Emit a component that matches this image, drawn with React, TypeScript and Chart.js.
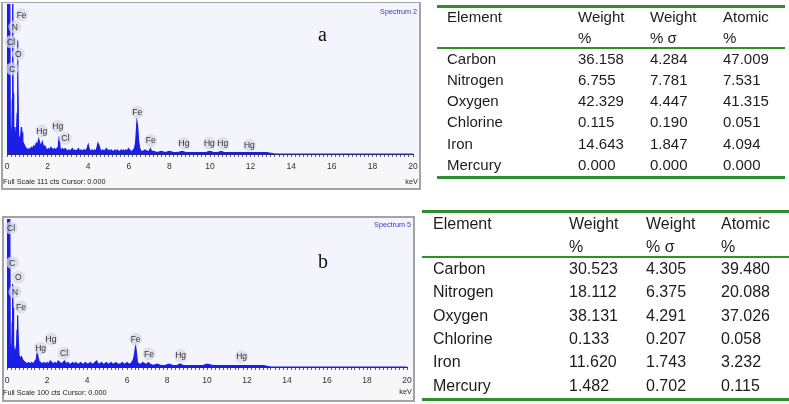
import React, { useEffect, useRef } from "react";
import { Chart, registerables } from "chart.js";

Chart.register(...registerables);

// ---------------- data ----------------
const energyA = [
  0.0, 0.02, 0.13, 0.16, 0.2, 0.24, 0.26, 0.28, 0.3, 0.33, 0.36, 0.39, 0.42, 0.46, 0.5, 0.52, 0.54, 0.57, 0.62, 0.67,
  0.71, 0.74, 0.78, 0.84, 0.9, 0.96, 1.02, 1.08, 1.14, 1.2, 1.26, 1.32, 1.38, 1.44, 1.5, 1.56, 1.62, 1.68, 1.74, 1.8,
  1.86, 1.92, 1.98, 2.04, 2.1, 2.16, 2.22, 2.28, 2.34, 2.4, 2.46, 2.52, 2.57, 2.62, 2.68, 2.74, 2.8, 2.86, 2.92, 2.98,
  3.04, 3.1, 3.16, 3.22, 3.28, 3.34, 3.4, 3.46, 3.52, 3.58, 3.64, 3.7, 3.76, 3.82, 3.88, 3.94, 4.0, 4.06, 4.12, 4.18,
  4.24, 4.3, 4.36, 4.42, 4.48, 4.54, 4.6, 4.66, 4.72, 4.78, 4.84, 4.9, 4.96, 5.02, 5.08, 5.14, 5.2, 5.26, 5.32, 5.38,
  5.44, 5.5, 5.56, 5.62, 5.68, 5.74, 5.8, 5.86, 5.92, 5.98, 6.04, 6.1, 6.16, 6.22, 6.28, 6.34, 6.4, 6.44, 6.48, 6.54,
  6.6, 6.7, 6.8, 6.9, 7.0, 7.06, 7.12, 7.2, 7.4, 7.6, 7.8, 8.0, 8.2, 8.4, 8.64, 8.8, 9.0, 9.2, 9.4, 9.6,
  9.8, 9.98, 10.2, 10.4, 10.54, 10.7, 11.0, 11.4, 11.8, 12.0, 12.4, 12.8, 13.2, 20.0,
];
const countsA = [
  0, 160, 160, 22, 14, 16, 40, 160, 45, 14, 13, 20, 13, 13, 30, 84, 60, 14, 11, 13,
  20, 16, 9, 7, 5, 4, 3, 4, 3, 5, 4, 6, 5, 8, 7, 11, 8, 6, 9, 5,
  6, 4, 3, 4, 3, 5, 4, 3, 4, 3, 4, 5, 13, 4, 3, 4, 3, 4, 3, 2,
  3, 2, 3, 4, 2, 3, 2, 3, 4, 2, 3, 2, 3, 3, 2, 4, 7, 3, 2, 3,
  2, 3, 2, 4, 8, 6, 3, 2, 3, 2, 3, 4, 2, 3, 2, 3, 2, 2, 3, 2,
  3, 2, 2, 3, 2, 3, 2, 3, 2, 4, 3, 2, 2, 3, 4, 9, 24, 20, 10, 4,
  2, 2, 3, 2, 2, 4, 2, 2, 1, 2, 1, 2, 1, 1, 2, 1, 1, 1, 1, 1,
  1, 2, 1, 1, 2, 1, 1, 1, 1, 1, 1, 1, 0, 0,
];
const fullScaleA = 111;
const peakNamesA = ["Fe", "N", "Cl", "O", "C", "Hg", "Hg", "Cl", "Fe", "Fe", "Hg", "Hg", "Hg", "Hg"];
const peakKeVA = [0.72, 0.39, 0.2, 0.56, 0.26, 1.71, 2.5, 2.87, 6.42, 7.08, 8.72, 9.97, 10.63, 11.94];
const peakCtsA = [103, 94, 83, 74, 63, 17, 20.5, 11.5, 31, 10, 8, 8, 8, 6.5];

const energyB = [
  0.0, 0.02, 0.13, 0.16, 0.2, 0.24, 0.26, 0.28, 0.3, 0.33, 0.37, 0.4, 0.43, 0.47, 0.5, 0.53, 0.56, 0.6, 0.66, 0.72,
  0.78, 0.84, 0.92, 1.0, 1.08, 1.16, 1.24, 1.32, 1.4, 1.46, 1.51, 1.55, 1.6, 1.68, 1.76, 1.84, 1.92, 2.0, 2.08, 2.16,
  2.24, 2.32, 2.4, 2.48, 2.56, 2.64, 2.72, 2.8, 2.88, 2.96, 3.04, 3.12, 3.2, 3.28, 3.36, 3.44, 3.52, 3.6, 3.68, 3.76,
  3.84, 3.92, 4.0, 4.08, 4.16, 4.24, 4.32, 4.4, 4.48, 4.56, 4.64, 4.72, 4.8, 4.88, 4.96, 5.04, 5.12, 5.2, 5.28, 5.36,
  5.44, 5.52, 5.6, 5.68, 5.76, 5.84, 5.92, 6.0, 6.08, 6.16, 6.24, 6.32, 6.38, 6.43, 6.47, 6.52, 6.6, 6.7, 6.8, 6.9,
  7.0, 7.06, 7.14, 7.3, 7.5, 7.7, 7.9, 8.1, 8.3, 8.5, 8.66, 8.8, 9.0, 9.2, 9.4, 9.6, 9.8, 10.0, 10.3, 10.6,
  11.0, 11.4, 11.72, 12.0, 12.4, 12.8, 13.2, 20.0,
];
const countsB = [
  0, 160, 160, 16, 10, 14, 30, 56, 40, 10, 9, 12, 9, 10, 25, 35, 20, 8, 6, 7,
  5, 4, 3, 2, 3, 2, 3, 2, 4, 5, 10, 7, 4, 3, 2, 3, 2, 3, 2, 4,
  3, 2, 3, 2, 4, 3, 2, 3, 4, 2, 3, 2, 2, 3, 2, 3, 2, 2, 3, 2,
  2, 3, 2, 2, 3, 2, 2, 3, 4, 2, 2, 3, 2, 2, 3, 2, 2, 3, 2, 2,
  3, 2, 2, 2, 3, 2, 2, 3, 2, 2, 3, 5, 9, 14, 10, 3, 2, 2, 3, 2,
  2, 3, 2, 1, 2, 1, 1, 2, 1, 1, 2, 1, 1, 1, 1, 1, 1, 2, 1, 1,
  1, 1, 1, 1, 1, 1, 0, 0,
];
const fullScaleB = 100;
const peakNamesB = ["Cl", "C", "O", "N", "Fe", "Hg", "Hg", "Cl", "Fe", "Fe", "Hg", "Hg"];
const peakKeVB = [0.2, 0.27, 0.57, 0.4, 0.7, 1.68, 2.2, 2.85, 6.43, 7.1, 8.68, 11.73];
const peakCtsB = [94, 70.5, 60.7, 50.8, 40.6, 12.7, 19, 9.3, 19, 9, 7.7, 7];

const keVMin = 0;
const keVMax = 20;
const keVLabelTicks = [0, 2, 4, 6, 8, 10, 12, 14, 16, 18, 20];
const keVMinorStep = 0.2;

const elements = ["Carbon", "Nitrogen", "Oxygen", "Chlorine", "Iron", "Mercury"];
const weightA = [36.158, 6.755, 42.329, 0.115, 14.643, 0.0];
const sigmaA = [4.284, 7.781, 4.447, 0.19, 1.847, 0.0];
const atomicA = [47.009, 7.531, 41.315, 0.051, 4.094, 0.0];
const weightB = [30.523, 18.112, 38.131, 0.133, 11.62, 1.482];
const sigmaB = [4.305, 6.375, 4.291, 0.207, 1.743, 0.702];
const atomicB = [39.48, 20.088, 37.026, 0.058, 3.232, 0.115];
const headerLine1 = ["Element", "Weight", "Weight", "Atomic"];
const headerLine2 = ["", "%", "% σ", "%"];

// ---------------- components ----------------
const SANS = '"Liberation Sans", Arial, sans-serif';
const BLUE = "#1a1ee6";
const GREEN = "#2f8f2f";

type SpecProps = {
  energy: number[];
  counts: number[];
  fullScale: number;
  names: string[];
  kev: number[];
  cts: number[];
  left: number;
  top: number;
  w: number;
  h: number;
  tickPad: number;
  pad: { left: number; right: number; top: number; bottom: number };
};

function Spectrum(p: SpecProps) {
  const ref = useRef<HTMLCanvasElement>(null);
  useEffect(() => {
    const bg = {
      id: "bgfill",
      beforeDraw(chart: any) {
        const { ctx, chartArea } = chart;
        ctx.save();
        ctx.fillStyle = "#f4f4fd";
        ctx.fillRect(0, 0, chart.width, chartArea.bottom);
        ctx.restore();
      },
    };
    const lbl = {
      id: "peaklabels",
      afterDatasetsDraw(chart: any) {
        const { ctx } = chart;
        const xs = chart.scales.x;
        const ys = chart.scales.y;
        ctx.save();
        ctx.font = `8.5px ${SANS}`;
        ctx.textAlign = "center";
        ctx.textBaseline = "middle";
        p.names.forEach((n, i) => {
          const px = xs.getPixelForValue(p.kev[i]);
          const py = ys.getPixelForValue(p.cts[i]);
          ctx.beginPath();
          ctx.arc(px, py, 6.5, 0, Math.PI * 2);
          ctx.fillStyle = "rgba(218,218,230,0.75)";
          ctx.fill();
          ctx.fillStyle = "#333";
          ctx.fillText(n, px, py + 0.5);
        });
        ctx.restore();
      },
    };
    const chart = new Chart(ref.current as HTMLCanvasElement, {
      type: "line",
      data: {
        datasets: [
          {
            data: p.energy.map((e, i) => ({ x: e, y: p.counts[i] })),
            borderColor: BLUE,
            backgroundColor: BLUE,
            borderWidth: 1.2,
            pointRadius: 0,
            fill: "origin",
            tension: 0,
          },
        ],
      },
      options: {
        animation: false,
        responsive: false,
        maintainAspectRatio: false,
        devicePixelRatio: 1,
        layout: { padding: p.pad },
        plugins: { legend: { display: false }, tooltip: { enabled: false } },
        scales: {
          x: {
            type: "linear",
            min: keVMin,
            max: keVMax,
            afterFit: (s: any) => {
              s.height = 20;
              s.paddingLeft = 0;
              s.paddingRight = 0;
            },
            ticks: {
              stepSize: keVMinorStep,
              autoSkip: false,
              maxRotation: 0,
              padding: p.tickPad,
              color: "#333",
              font: { size: 8.5, family: SANS },
              callback: (v: any) => {
                const n = Number(v);
                const hit = keVLabelTicks.find((t) => Math.abs(t - n) < 1e-6);
                return hit !== undefined ? String(hit) : "";
              },
            },
            grid: { drawOnChartArea: false, tickLength: 3, color: "#55558a", lineWidth: 1 },
            border: { color: "#2a2a7a", width: 1 },
          },
          y: { display: false, min: 0, max: p.fullScale },
        },
      },
      plugins: [bg, lbl],
    } as any);
    return () => chart.destroy();
  }, []);
  return (
    <canvas
      ref={ref}
      width={p.w}
      height={p.h}
      style={{ position: "absolute", left: p.left, top: p.top, width: p.w, height: p.h }}
    />
  );
}

type TableProps = {
  left: number;
  right: number;
  fs: number;
  cols: number[];
  topLine: number;
  h1: number;
  h2: number;
  thin: number;
  row0: number;
  step: number;
  bottomLine: number;
  weight: number[];
  sigma: number[];
  atomic: number[];
};

function Txt({ x, y, fs, children }: { x: number; y: number; fs: number; children: any }) {
  const lh = Math.round(fs * 1.3);
  return (
    <div
      style={{
        position: "absolute",
        left: x,
        top: y - lh / 2,
        height: lh,
        lineHeight: `${lh}px`,
        fontSize: fs,
        fontFamily: SANS,
        color: "#1c1c1c",
        whiteSpace: "nowrap",
      }}
    >
      {children}
    </div>
  );
}

function Table(t: TableProps) {
  const line = (y: number, th: number) => (
    <div style={{ position: "absolute", left: t.left, width: t.right - t.left, top: y, height: th, background: GREEN }} />
  );
  const cells: any[] = [];
  headerLine1.forEach((s, j) => cells.push(<Txt key={"a" + j} x={t.cols[j]} y={t.h1} fs={t.fs}>{s}</Txt>));
  headerLine2.forEach((s, j) => cells.push(<Txt key={"b" + j} x={t.cols[j]} y={t.h2} fs={t.fs}>{s}</Txt>));
  elements.forEach((e, i) => {
    const y = t.row0 + i * t.step;
    const vals = [e, t.weight[i].toFixed(3), t.sigma[i].toFixed(3), t.atomic[i].toFixed(3)];
    vals.forEach((v, j) => cells.push(<Txt key={`r${i}c${j}`} x={t.cols[j]} y={y} fs={t.fs}>{v}</Txt>));
  });
  return (
    <>
      {line(t.topLine, 3)}
      {line(t.thin, 2)}
      {line(t.bottomLine, 3)}
      {cells}
    </>
  );
}

function Small({ x, y, right, children, color, sx }: any) {
  const style: any = {
    position: "absolute",
    top: y - 5,
    height: 10,
    lineHeight: "10px",
    fontSize: 8,
    fontFamily: SANS,
    color: color || "#222",
    whiteSpace: "nowrap",
    transform: `scaleX(${sx || 0.91})`,
  };
  if (right !== undefined) {
    style.right = 789 - right;
    style.transformOrigin = "right center";
  } else {
    style.left = x;
    style.transformOrigin = "left center";
  }
  return <div style={style}>{children}</div>;
}

const frame = (left: number, top: number, w: number, h: number) => (
  <div
    style={{
      position: "absolute",
      left,
      top,
      width: w,
      height: h,
      boxSizing: "border-box",
      border: "2px solid #a3a3a3",
      background: "#f7f7f9",
    }}
  />
);

export default function App() {
  return (
    <div style={{ position: "absolute", left: 0, top: 0, width: 789, height: 404, background: "#fff", overflow: "hidden" }}>
      {/* panel a */}
      {frame(1, 2, 420, 188)}
      <Spectrum
        energy={energyA}
        counts={countsA}
        fullScale={fullScaleA}
        names={peakNamesA}
        kev={peakKeVA}
        cts={peakCtsA}
        left={3}
        top={3}
        w={416}
        h={185}
        tickPad={5}
        pad={{ left: 4, right: 6, top: 1, bottom: 14 }}
      />
      <Small right={417} y={12} color="#3535d0" sx={0.9}>Spectrum 2</Small>
      <Small x={3} y={182}>Full Scale 111 cts Cursor: 0.000</Small>
      <Small right={418} y={182}>keV</Small>
      <div style={{ position: "absolute", left: 318, top: 22, fontSize: 20, fontFamily: '"Liberation Serif", serif', color: "#111", lineHeight: "24px" }}>a</div>

      {/* panel b */}
      {frame(2, 216, 413, 186)}
      <Spectrum
        energy={energyB}
        counts={countsB}
        fullScale={fullScaleB}
        names={peakNamesB}
        kev={peakKeVB}
        cts={peakCtsB}
        left={4}
        top={218}
        w={408}
        h={182}
        tickPad={6}
        pad={{ left: 3, right: 5, top: 1, bottom: 13 }}
      />
      <Small right={411} y={225} color="#3535d0" sx={0.9}>Spectrum 5</Small>
      <Small x={3} y={393}>Full Scale 100 cts Cursor: 0.000</Small>
      <Small right={412} y={392}>keV</Small>
      <div style={{ position: "absolute", left: 318, top: 249, fontSize: 20, fontFamily: '"Liberation Serif", serif', color: "#111", lineHeight: "24px" }}>b</div>

      {/* tables */}
      <Table
        left={437}
        right={785}
        fs={15}
        cols={[447, 578, 650, 723]}
        topLine={5}
        h1={17}
        h2={38}
        thin={47}
        row0={58.5}
        step={21.3}
        bottomLine={176}
        weight={weightA}
        sigma={sigmaA}
        atomic={atomicA}
      />
      <Table
        left={422}
        right={789}
        fs={16}
        cols={[433, 569, 646, 721]}
        topLine={210}
        h1={223}
        h2={246}
        thin={256}
        row0={268.5}
        step={23.3}
        bottomLine={398}
        weight={weightB}
        sigma={sigmaB}
        atomic={atomicB}
      />
    </div>
  );
}
